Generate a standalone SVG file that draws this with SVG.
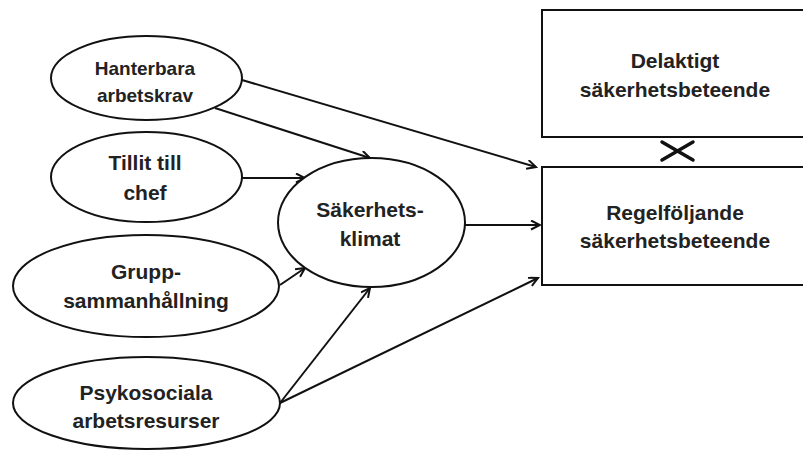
<svg xmlns="http://www.w3.org/2000/svg" width="803" height="451" viewBox="0 0 803 451">
<style>
.n{fill:#fff;stroke:#111;stroke-width:2}
.t{font-family:"Liberation Sans",Arial,sans-serif;font-weight:bold;font-size:21px;fill:#222;text-anchor:middle}
.s{font-size:19px}
.c{stroke:#111;stroke-width:2;fill:none;marker-end:url(#ah)}
</style>
<defs>
<marker id="ah" markerUnits="userSpaceOnUse" markerWidth="12" markerHeight="12" refX="10" refY="5" orient="auto">
<path d="M1,0.5 L10,5 L1,9.5" fill="none" stroke="#111" stroke-width="2"/>
</marker>
</defs>
<rect width="803" height="451" fill="#fff"/>
<g id="connectors">
<line class="c" x1="242" y1="80" x2="536" y2="167"/>
<line class="c" x1="215" y1="108" x2="370" y2="158"/>
<line class="c" x1="242" y1="178" x2="305" y2="178"/>
<line class="c" x1="280" y1="285" x2="305" y2="268"/>
<line class="c" x1="280" y1="403" x2="370" y2="288"/>
<line class="c" x1="280" y1="403" x2="538" y2="278"/>
<line class="c" x1="465" y1="225" x2="540" y2="225"/>
</g>
<g id="hanterbara">
<ellipse class="n" cx="146.5" cy="78" rx="95.5" ry="42"/>
<text class="t s" x="145" y="75">Hanterbara</text>
<text class="t s" x="145" y="102">arbetskrav</text>
</g>
<g id="tillit">
<ellipse class="n" cx="146.5" cy="177" rx="95.5" ry="45"/>
<text class="t" x="145" y="170">Tillit till</text>
<text class="t" x="145" y="200">chef</text>
</g>
<g id="grupp">
<ellipse class="n" cx="146" cy="286" rx="133" ry="51"/>
<text class="t" x="146" y="279">Grupp-</text>
<text class="t" x="146" y="308">sammanhållning</text>
</g>
<g id="psykosociala">
<ellipse class="n" cx="146.5" cy="403" rx="133.5" ry="46"/>
<text class="t" x="146" y="400">Psykosociala</text>
<text class="t" x="146" y="428">arbetsresurser</text>
</g>
<g id="sakerhetsklimat">
<ellipse class="n" cx="371.5" cy="222.5" rx="93.5" ry="64.5"/>
<text class="t" x="370" y="217">Säkerhets-</text>
<text class="t" x="370" y="246">klimat</text>
</g>
<g id="delaktigt">
<rect class="n" x="542" y="10" width="270" height="127"/>
<text class="t" x="675" y="68">Delaktigt</text>
<text class="t" x="675" y="97">säkerhetsbeteende</text>
</g>
<g id="regelfoljande">
<rect class="n" x="542" y="167" width="270" height="118"/>
<text class="t" x="675" y="220">Regelföljande</text>
<text class="t" x="675" y="248">säkerhetsbeteende</text>
</g>
<g id="cross" stroke="#111" stroke-width="3.5" stroke-linecap="round">
<line x1="662" y1="142" x2="693" y2="160"/>
<line x1="662" y1="160" x2="693" y2="142"/>
</g>
</svg>
